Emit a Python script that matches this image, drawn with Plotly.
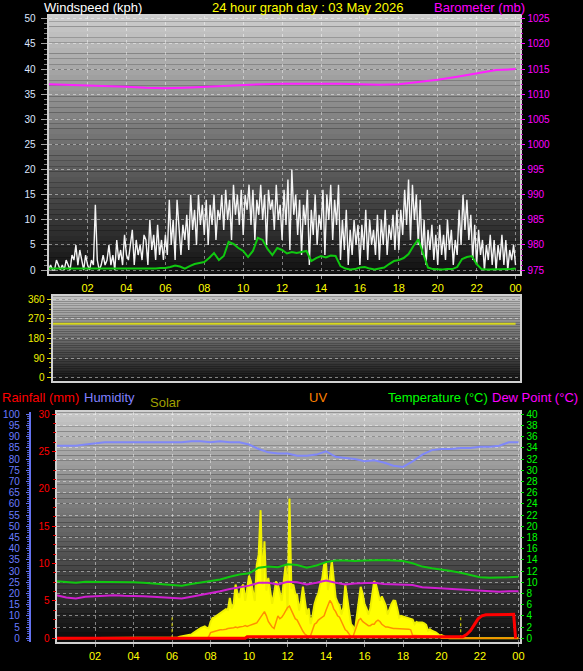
import plotly.graph_objects as go

W, H = 583, 671

# ---------------- data (hours since midnight) ----------------
hour_ticks = [2, 4, 6, 8, 10, 12, 14, 16, 18, 20, 22, 24]
hour_labels = ['02', '04', '06', '08', '10', '12', '14', '16', '18', '20', '22', '00']

# wind speed samples every 6 minutes (kph)
wind_gust = [
    0, 1, 0, 0, 2, 1, 0, 1, 0, 2,
    1, 0, 3, 2, 5, 1, 4, 2, 0, 3,
    1, 0, 2, 1, 13, 2, 0, 1, 3, 1,
    2, 5, 1, 3, 0, 6, 2, 4, 1, 7,
    3, 2, 5, 8, 1, 6, 3, 5, 2, 7,
    6, 1, 10, 4, 7, 2, 9, 3, 6, 2,
    7, 3, 14, 5, 10, 2, 14, 8, 3, 9,
    6, 11, 4, 15, 8, 12, 5, 15, 9, 13,
    7, 14, 5, 13, 9, 15, 6, 12, 10, 15,
    8, 16, 10, 14, 6, 17, 11, 15, 9, 16,
    7, 15, 12, 17, 9, 16, 6, 14, 11, 17,
    10, 15, 5, 16, 12, 14, 8, 17, 10, 13,
    6, 16, 9, 18, 4, 20, 11, 15, 7, 14,
    3, 13, 9, 16, 1, 12, 7, 15, 5, 11,
    8, 16, 3, 15, 10, 17, 6, 14, 9, 17,
    2, 10, 4, 12, 1, 8, 3, 10, 5, 9,
    1, 9, 4, 12, 2, 10, 5, 8, 3, 11,
    2, 10, 5, 12, 3, 9, 6, 11, 4, 12,
    4, 12, 7, 16, 9, 18, 6, 17, 10, 15,
    5, 14, 3, 10, 1, 8, 4, 9, 2, 7,
    1, 9, 3, 7, 2, 10, 4, 8, 1, 6,
    3, 12, 5, 15, 8, 14, 6, 11, 2, 9,
    1, 8, 3, 6, 0, 5, 2, 7, 1, 6,
    0, 5, 2, 7, 1, 6, 0, 4, 2, 5,
    1,
]

# average wind every 15 minutes (kph)
wind_avg = [
    0.3, 0.3, 0.2, 0.3, 0.3, 0.3, 0.2, 0.3, 0.3, 0.2, 0.3, 0.3,
    0.2, 0.3, 0.3, 0.3, 0.3, 0.2, 0.3, 0.3, 0.3, 0.2, 0.3, 0.4,
    0.4, 0.6, 0.9, 0.7, 0.3, 0.8, 1.2, 1.4, 1.6, 2.4, 3.4, 2.0,
    2.8, 5.6, 5.2, 4.4, 3.8, 2.6, 3.8, 6.4, 6.0, 4.2, 3.0, 4.4,
    4.0, 3.3, 3.6, 3.4, 3.6, 3.8, 1.8, 2.4, 2.8, 2.5, 2.9, 2.8,
    0.8, 0.3, 0.1, 0.2, 0.5, 0.6, 0.3, 0.1, 0.3, 0.5, 1.2, 1.8,
    2.0, 2.4, 3.2, 4.8, 6.1, 3.5, 0.5, 0.2, 0.1, 0.1, 0.2, 0.2,
    0.6, 2.2, 2.6, 2.8, 1.2, 0.2, 0.1, 0.1, 0.1, 0.2, 0.1, 0.2,
    0.3,
]

baro_hours = list(range(25))
barometer = [1012.0, 1011.9, 1011.8, 1011.6, 1011.5, 1011.3, 1011.2, 1011.3,
             1011.5, 1011.7, 1011.9, 1012.0, 1012.1, 1012.1, 1012.2, 1012.1,
             1012.0, 1011.9, 1012.0, 1012.4, 1012.9, 1013.5, 1014.2, 1014.8,
             1015.0]

dir_hours = [0, 24]
wind_dir = [248, 248]

half_hours = [i * 0.5 for i in range(49)]
humidity = [86, 86, 86, 86.5, 87, 87.5, 87.5, 87.5, 87.5, 87.5, 87.5, 87.5,
            87.5, 87.5, 88, 88, 87.5, 88, 87.5, 87.5, 86.5, 84.5, 83, 82.5,
            82.5, 81.5, 81.5, 82, 83.5, 81, 80.5, 80, 79, 79.5, 78.5, 77,
            76.5, 79, 82, 84, 84.5, 84.5, 85, 85, 85.5, 85.5, 86, 87.5, 87.5]
temperature = [10.2, 10.0, 9.9, 10.1, 10.1, 10.1, 10.1, 10.1, 10.0, 9.9, 9.8, 9.6,
               9.5, 9.4, 9.7, 10.0, 10.2, 10.5, 11.0, 11.4, 11.6, 12.6, 12.8, 12.7,
               13.2, 13.1, 12.6, 13.0, 13.6, 13.9, 13.9, 13.8, 13.9, 14.0, 14.0, 13.9,
               13.8, 13.4, 12.8, 12.5, 12.3, 12.0, 11.7, 11.3, 10.9, 10.8, 10.8, 10.9,
               11.0]
dew_point = [7.7, 7.3, 7.1, 7.4, 7.5, 7.6, 7.7, 7.6, 7.6, 7.5, 7.4, 7.3,
             7.2, 7.1, 7.4, 7.7, 8.0, 8.4, 8.8, 9.1, 9.4, 9.9, 9.9, 9.6,
             10.1, 10.0, 9.6, 9.9, 10.3, 9.9, 9.6, 9.8, 9.8, 9.9, 9.7, 9.6,
             9.6, 9.5, 9.1, 9.0, 8.9, 8.8, 8.7, 8.5, 8.4, 8.3, 8.3, 8.4,
             8.4]

rain_hours = [0, 9.8, 9.9, 21.1, 21.3, 21.5, 21.7, 21.9, 22.1, 22.3, 23.75, 23.85]
rainfall = [0, 0, 0.2, 0.2, 0.5, 1.0, 1.8, 2.6, 3.0, 3.15, 3.2, 0]

# solar radiation (W/m2) every 6 minutes from 06:00
solar_start = 6.0
solar = [
    0, 0, 0, 5, 10, 12, 14, 15, 17, 20,
    25, 35, 45, 50, 60, 70, 75, 80, 70, 66,
    110, 135, 140, 150, 160, 170, 175, 185, 195, 190,
    270, 200, 230, 360, 300, 270, 340, 360, 250, 330,
    420, 380, 300, 250, 490, 560, 858, 360, 650, 320,
    405, 330, 230, 300, 380, 360, 300, 250, 380, 493,
    186, 936, 330, 360, 300, 290, 186, 250, 345, 260,
    160, 200, 95, 150, 228, 270, 300, 360, 400, 493,
    504, 323, 405, 520, 383, 272, 240, 220, 160, 206,
    360, 250, 180, 95, 80, 51, 150, 250, 345, 300,
    228, 200, 160, 200, 300, 383, 360, 300, 252, 280,
    252, 220, 160, 200, 230, 252, 250, 200, 139, 150,
    145, 140, 139, 135, 130, 125, 95, 110, 105, 106,
    106, 100, 90, 51, 60, 50, 46, 40, 30, 18,
    22, 15, 8, 3, 0, 0,
]

# UV index every 6 minutes from 07:30
uv_start = 7.5
uv = [
    0, 0, 0, 0, 0.1,
    0.4, 0.45, 0.5, 0.5, 0.55, 0.6, 0.6, 0.6, 0.65, 0.7,
    0.7, 0.7, 0.75, 0.8, 0.75, 0.8, 0.8, 0.85, 0.9, 0.85,
    0.9, 0.95, 1.0, 1.0, 1.1, 1.3, 1.5, 1.7, 1.9, 1.6,
    1.2, 1.0, 0.8, 0.7, 1.2, 1.6, 1.4, 1.5, 1.7, 2.0,
    2.2, 2.3, 2.0, 1.7, 1.4, 1.3, 1.0, 0.8, 0.5, 0.3,
    0.2, 0.1, 0.2, 0.6, 1.0, 1.1, 1.3, 1.4, 1.5, 1.6,
    2.0, 2.4, 2.7, 2.5, 2.1, 1.9, 1.6, 1.5, 1.2, 0.8,
    0.6, 0.5, 0.3, 0.1, 0.1, 0.5, 0.9, 1.3, 1.4, 1.2,
    1.1, 1.0, 0.9, 0.9, 1.0, 1.0, 1.2, 1.3, 1.2, 1.0,
    0.9, 0.8, 0.8, 0.75, 0.7, 0.7, 0.7, 0.7, 0.7, 0.65,
    0.65, 0.65, 0.65, 0.65, 0.6, 0.2, 0.2, 0.2, 0.2, 0.2,
    0.2, 0.2, 0.2, 0.2, 0.2, 0.2, 0.15, 0.15, 0.1, 0.1,
    0,
]

sunrise, sunset = 6.0, 21.0
sun_mark = 140  # height of the sunrise/sunset marker, W/m2

# ---------------- time grids ----------------
gust_hours = [round(i * 0.1, 2) for i in range(len(wind_gust))]
avg_hours = [i * 0.25 for i in range(len(wind_avg))]
solar_hours = [0] + [round(solar_start + i * 0.1, 2) for i in range(len(solar))] + [24]
solar_vals = [0] + solar + [0]
uv_hours = [0] + [round(uv_start + i * 0.1, 2) for i in range(len(uv))] + [24]
uv_vals = [0] + uv + [0]

FONT = "Liberation Sans, Arial, sans-serif"


def px(x):
    return x / W


def py(y):
    return 1 - y / H


def rng(v0, p0, v1, p1, top, bottom):
    k = (v1 - v0) / (p1 - p0)
    return [v0 + (bottom - p0) * k, v0 + (top - p0) * k]


# panel pixel boxes (left, right, top, bottom)
TOP = (49, 524, 13, 273)
MID = (53, 524, 296, 381)
BOT = (57, 524, 413, 645)

fig = go.Figure()

# --- top panel ---
fig.add_trace(go.Scatter(x=gust_hours, y=wind_gust, mode='lines',
                         line=dict(color='#f4f4f4', width=1.4), xaxis='x', yaxis='y'))
fig.add_trace(go.Scatter(x=avg_hours, y=wind_avg, mode='lines',
                         line=dict(color='#10c810', width=2), xaxis='x', yaxis='y'))
fig.add_trace(go.Scatter(x=baro_hours, y=barometer, mode='lines',
                         line=dict(color='#ff20ff', width=2), xaxis='x', yaxis='y2'))

# --- middle panel ---
fig.add_trace(go.Scatter(x=dir_hours, y=wind_dir, mode='lines',
                         line=dict(color='#d8d820', width=2), xaxis='x2', yaxis='y3'))

# --- bottom panel ---
fig.add_trace(go.Scatter(x=solar_hours, y=solar_vals, mode='lines', fill='tozeroy',
                         fillcolor='#ffff00', line=dict(color='#f0f000', width=2),
                         xaxis='x3', yaxis='y5'))
fig.add_trace(go.Scatter(x=uv_hours, y=uv_vals, mode='lines',
                         line=dict(color='#ff9000', width=1.5), xaxis='x3', yaxis='y6'))
fig.add_trace(go.Scatter(x=half_hours, y=humidity, mode='lines',
                         line=dict(color='#8088f8', width=2), xaxis='x3', yaxis='y7'))
fig.add_trace(go.Scatter(x=half_hours, y=temperature, mode='lines',
                         line=dict(color='#10c810', width=2), xaxis='x3', yaxis='y8'))
fig.add_trace(go.Scatter(x=half_hours, y=dew_point, mode='lines',
                         line=dict(color='#d020d0', width=2), xaxis='x3', yaxis='y8'))
fig.add_trace(go.Scatter(x=rain_hours, y=rainfall, mode='lines',
                         line=dict(color='#ff0000', width=3), xaxis='x3', yaxis='y9'))

# background gradients
shapes = []
for xr, yr, top_g, bot_g in (('x', 'y', 205, 16), ('x2', 'y3', 196, 18), ('x3', 'y5', 200, 10)):
    n = 48
    for i in range(n):
        f = (i + 0.5) / n
        g = int(round(bot_g + (top_g - bot_g) * (1 - f)))
        shapes.append(dict(type='rect', xref=xr + ' domain', yref=yr + ' domain',
                           x0=0, x1=1, y0=1 - (i + 1) / n, y1=1 - i / n,
                           fillcolor=f'rgb({g},{g},{g})', line=dict(width=0), layer='below'))
for t in (sunrise, sunset):
    shapes.append(dict(type='line', xref='x3', yref='y5', x0=t, x1=t, y0=0, y1=sun_mark,
                       line=dict(color='#e8e800', width=1, dash='dot'), layer='between'))

grid = dict(showgrid=True, gridcolor='rgba(255,255,255,0.45)', griddash='dot', gridwidth=1)
frame = dict(showline=True, linecolor='#d0d0d0', linewidth=2, mirror=True, zeroline=False)
tfont = dict(family=FONT, size=10)

xbase = dict(tickvals=hour_ticks, ticktext=hour_labels, ticks='outside', ticklen=3,
             tickcolor='#909090', tickfont=dict(family=FONT, size=11, color='#ffff00'),
             **grid, **frame)

fig.update_layout(
    width=W, height=H, margin=dict(l=0, r=0, t=0, b=0),
    paper_bgcolor='#000000', plot_bgcolor='rgba(0,0,0,0)',
    showlegend=False, shapes=shapes,
    xaxis=dict(domain=[px(TOP[0]), px(TOP[1])], range=[0, 24.25], anchor='y', **xbase),
    yaxis=dict(domain=[py(TOP[3]), py(TOP[2])], range=rng(0, 269.5, 50, 16, TOP[2], TOP[3]),
               anchor='x', tickvals=list(range(0, 51, 5)), ticks='outside', ticklen=6,
               tickcolor='#a0a0a0', tickfont=dict(tfont, color='#dde6ff'), ticklabelstandoff=3,
               minor=dict(dtick=1, ticks='outside', ticklen=3, tickcolor='#808080'),
               **grid, **frame),
    yaxis2=dict(overlaying='y', side='right', anchor='x',
                range=rng(975, 269.5, 1025, 16, TOP[2], TOP[3]),
                tickvals=list(range(975, 1026, 5)), ticks='outside', ticklen=4,
                tickcolor='#ff00ff', tickfont=dict(tfont, color='#ff00ff'),
                minor=dict(dtick=1, ticks='outside', ticklen=2, tickcolor='#c000c0'),
                showgrid=False, zeroline=False),
    xaxis2=dict(domain=[px(MID[0]), px(MID[1])], range=[0, 24.25], anchor='y3',
                showticklabels=False, ticks='', showgrid=False, **frame),
    yaxis3=dict(domain=[py(MID[3]), py(MID[2])], range=rng(0, 378, 360, 299, MID[2], MID[3]),
                anchor='x2', tickvals=[0, 90, 180, 270, 360], ticks='outside', ticklen=4,
                tickcolor='#e0e000', tickfont=dict(tfont, color='#f0f000'),
                minor=dict(dtick=22.5, ticks='outside', ticklen=2, tickcolor='#b0b000'),
                **grid, **frame),
    yaxis4=dict(overlaying='y3', side='right', anchor='x2',
                range=rng(0, 378, 360, 299, MID[2], MID[3]),
                tickvals=[0, 90, 180, 270, 360], ticktext=['N', 'E', 'S', 'W', 'N'],
                ticks='outside', ticklen=17, tickcolor='rgba(0,0,0,0)',
                tickfont=dict(family=FONT, size=14, color='#ffff00'),
                showgrid=False, zeroline=False, showline=False),
    xaxis3=dict(domain=[px(BOT[0]), px(BOT[1])], range=[0, 24.1], anchor='y5', **xbase),
    yaxis5=dict(domain=[py(BOT[3]), py(BOT[2])], range=rng(0, 641, 1500, 415, BOT[2], BOT[3]),
                anchor='x3', tickvals=[75 * k for k in range(21)], showticklabels=False,
                ticks='', **grid, **frame),
    yaxis6=dict(overlaying='y5', range=rng(0, 641, 16, 415, BOT[2], BOT[3]), visible=False),
    yaxis7=dict(overlaying='y5', anchor='free', position=px(30), side='left',
                range=rng(0, 641, 100, 415, BOT[2], BOT[3]),
                tickvals=list(range(0, 101, 5)), ticks='outside', ticklen=3,
                tickcolor='#6472f0', tickfont=dict(tfont, color='#6a7cff'), ticklabelstandoff=4,
                minor=dict(dtick=1, ticks='outside', ticklen=2, tickcolor='#5060d0'),
                showline=True, linecolor='#6472f0', linewidth=2, showgrid=False, zeroline=False),
    yaxis8=dict(overlaying='y5', side='right', anchor='x3',
                range=rng(0, 641, 40, 415, BOT[2], BOT[3]),
                tickvals=list(range(0, 41, 2)), ticks='outside', ticklen=3,
                tickcolor='#00e000', tickfont=dict(tfont, color='#00ff00'),
                showgrid=False, zeroline=False),
    yaxis9=dict(overlaying='y5', side='left', anchor='x3',
                range=rng(0, 641, 30, 415, BOT[2], BOT[3]),
                tickvals=list(range(0, 31, 5)), ticks='outside', ticklen=4,
                tickcolor='#ff0000', tickfont=dict(tfont, color='#ff0000'),
                minor=dict(dtick=1.25, ticks='outside', ticklen=3, tickcolor='#d00000'),
                showgrid=False, zeroline=False),
)

# titles
titles = [
    ("Windspeed (kph)", 42, 5, '#ffffff', 'left'),
    ("24 hour graph day : 03 May 2026", 310, 5, '#ffff00', 'center'),
    ("Barometer (mb)", 531, 5, '#ff00ff', 'right'),
    ("Rainfall (mm)", 0, 398, '#ff0000', 'left'),
    ("Humidity", 83, 398, '#8080ff', 'left'),
    ("Solar", 149, 403, '#a0a000', 'left'),
    ("UV", 309, 398, '#ff8000', 'left'),
    ("Temperature (°C)", 389, 398, '#00ff00', 'left'),
    ("Dew Point (°C)", 493, 398, '#ff00ff', 'left'),
]
for text, x, y, color, anchor in titles:
    fig.add_annotation(text=text, x=px(x), y=py(y), xref='paper', yref='paper',
                       xanchor=anchor, yanchor='middle', showarrow=False,
                       font=dict(family=FONT, size=13, color=color))

fig.write_html("out.html", config={'displayModeBar': False},
               post_script="document.body.style.margin='0';")
